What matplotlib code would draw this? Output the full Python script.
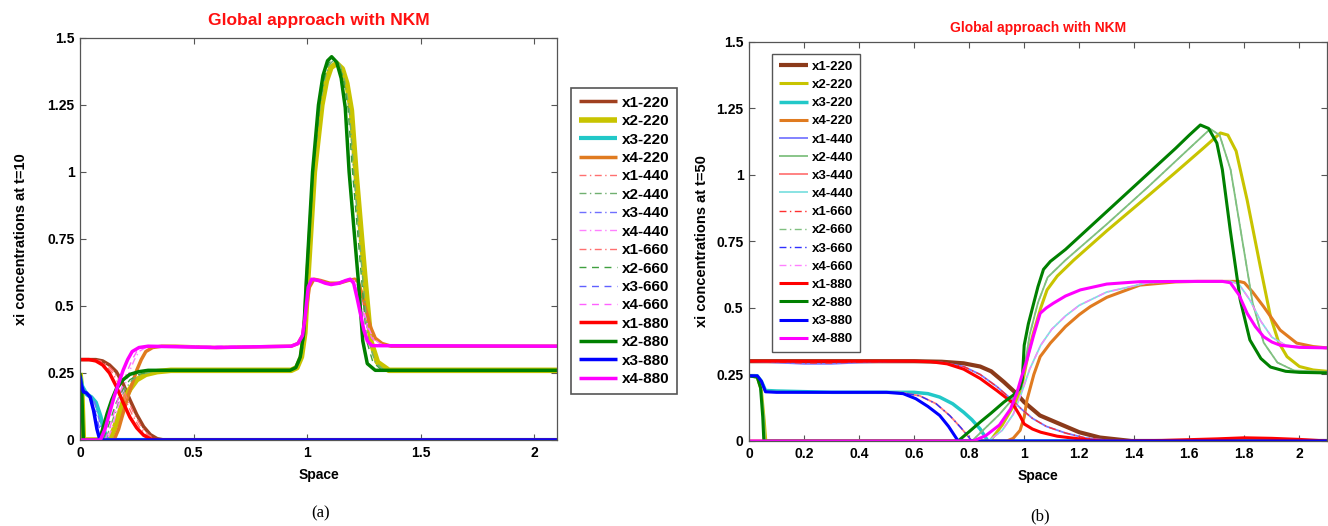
import matplotlib
matplotlib.use("Agg")
import matplotlib.pyplot as plt

plt.rcParams['font.family'] = ['Liberation Sans', 'DejaVu Sans']
plt.rcParams['font.weight'] = 'bold'

# ---- panel (a): t=10 ----
A_X1_220 = ([0, 0.07, 0.10, 0.13, 0.16, 0.19, 0.22, 0.25, 0.28, 0.31, 0.34, 0.37, 2.1],
            [0.30, 0.30, 0.295, 0.28, 0.255, 0.21, 0.15, 0.095, 0.05, 0.02, 0.005, 0.0, 0.0])
A_X2_220 = ([0, 0.008, 0.015, 0.13, 0.15, 0.17, 0.19, 0.22, 0.25, 0.29, 0.34, 0.40, 0.93, 0.955, 0.975, 0.99,
             1.003, 1.032, 1.065, 1.085, 1.105, 1.13, 1.155, 1.175, 1.195, 1.215, 1.255, 1.28, 1.31, 1.36, 2.1],
            [0.25, 0.18, 0.0, 0.0, 0.04, 0.09, 0.14, 0.19, 0.225, 0.245, 0.255, 0.26, 0.26, 0.27, 0.31, 0.40,
             0.60, 1.00, 1.25, 1.34, 1.39, 1.405, 1.385, 1.33, 1.23, 1.00, 0.60, 0.37, 0.29, 0.26, 0.26])
A_X3_220 = ([0, 0.01, 0.03, 0.05, 0.07, 0.09, 0.105, 0.12, 2.1],
            [0.24, 0.20, 0.17, 0.16, 0.14, 0.09, 0.04, 0.0, 0.0])
A_X4_220 = ([0, 0.15, 0.17, 0.19, 0.21, 0.23, 0.25, 0.27, 0.29, 0.32, 0.36, 0.42, 0.6, 0.93, 0.96, 0.98, 0.99,
             1.01, 1.03, 1.06, 1.10, 1.14, 1.18, 1.21, 1.225, 1.24, 1.26, 1.28, 1.30, 1.33, 1.37, 2.1],
            [0, 0, 0.04, 0.10, 0.16, 0.21, 0.26, 0.30, 0.33, 0.345, 0.35, 0.35, 0.345, 0.35, 0.36, 0.39, 0.45,
             0.57, 0.60, 0.595, 0.585, 0.585, 0.595, 0.60, 0.59, 0.55, 0.48, 0.42, 0.38, 0.36, 0.35, 0.35])

A_X1_440 = ([0, 0.06, 0.09, 0.12, 0.15, 0.18, 0.21, 0.24, 0.27, 0.30, 0.33, 0.36, 2.1],
            [0.30, 0.30, 0.295, 0.28, 0.255, 0.21, 0.15, 0.095, 0.05, 0.02, 0.005, 0.0, 0.0])
A_X2_440 = ([0, 0.008, 0.015, 0.11, 0.13, 0.15, 0.17, 0.20, 0.23, 0.27, 0.32, 0.38, 0.93, 0.955, 0.975, 0.99,
             1.0, 1.028, 1.058, 1.078, 1.098, 1.12, 1.145, 1.165, 1.185, 1.205, 1.245, 1.27, 1.30, 1.34, 2.1],
            [0.25, 0.18, 0.0, 0.0, 0.04, 0.09, 0.14, 0.19, 0.225, 0.245, 0.255, 0.26, 0.26, 0.27, 0.31, 0.40,
             0.60, 1.00, 1.25, 1.35, 1.40, 1.42, 1.40, 1.34, 1.24, 1.00, 0.60, 0.37, 0.29, 0.26, 0.26])
A_X3_440 = ([0, 0.01, 0.03, 0.05, 0.065, 0.08, 0.095, 0.105, 2.1],
            [0.24, 0.20, 0.17, 0.165, 0.14, 0.09, 0.04, 0.0, 0.0])
A_X4_440 = ([0, 0.12, 0.14, 0.16, 0.18, 0.20, 0.22, 0.24, 0.26, 0.29, 0.33, 0.40, 0.93, 0.96, 0.98, 0.99,
             1.005, 1.02, 1.06, 1.106, 1.15, 1.20, 1.215, 1.23, 1.25, 1.27, 1.29, 1.32, 1.35, 2.1],
            [0, 0, 0.04, 0.10, 0.16, 0.21, 0.26, 0.30, 0.33, 0.345, 0.35, 0.35, 0.35, 0.36, 0.39, 0.45,
             0.57, 0.60, 0.59, 0.58, 0.59, 0.60, 0.59, 0.55, 0.48, 0.42, 0.38, 0.36, 0.35, 0.35])

A_X1_660 = ([0, 0.05, 0.08, 0.11, 0.14, 0.17, 0.20, 0.23, 0.26, 0.29, 0.32, 0.35, 2.1],
            [0.30, 0.30, 0.295, 0.28, 0.255, 0.21, 0.15, 0.095, 0.05, 0.02, 0.005, 0.0, 0.0])
A_X2_660 = ([0, 0.008, 0.015, 0.10, 0.12, 0.14, 0.16, 0.19, 0.22, 0.26, 0.31, 0.36, 0.93, 0.955, 0.975, 0.99,
             1.0, 1.026, 1.055, 1.075, 1.095, 1.115, 1.14, 1.16, 1.18, 1.20, 1.24, 1.262, 1.29, 1.33, 2.1],
            [0.25, 0.18, 0.0, 0.0, 0.04, 0.09, 0.14, 0.19, 0.225, 0.245, 0.255, 0.26, 0.26, 0.27, 0.31, 0.40,
             0.60, 1.00, 1.25, 1.35, 1.405, 1.425, 1.405, 1.345, 1.24, 1.00, 0.60, 0.37, 0.29, 0.26, 0.26])
A_X3_660 = ([0, 0.01, 0.025, 0.04, 0.06, 0.075, 0.09, 0.10, 2.1],
            [0.24, 0.20, 0.175, 0.165, 0.13, 0.08, 0.03, 0.0, 0.0])
A_X4_660 = ([0, 0.11, 0.13, 0.15, 0.17, 0.19, 0.21, 0.23, 0.25, 0.28, 0.32, 0.40, 0.93, 0.96, 0.98, 0.99,
             1.005, 1.02, 1.06, 1.106, 1.15, 1.195, 1.21, 1.225, 1.245, 1.265, 1.285, 1.31, 1.34, 2.1],
            [0, 0, 0.04, 0.10, 0.16, 0.21, 0.26, 0.30, 0.33, 0.345, 0.35, 0.35, 0.35, 0.36, 0.39, 0.45,
             0.57, 0.60, 0.59, 0.58, 0.59, 0.60, 0.59, 0.55, 0.48, 0.42, 0.38, 0.36, 0.35, 0.35])

A_X1_880 = ([0, 0.04, 0.07, 0.10, 0.13, 0.16, 0.19, 0.22, 0.25, 0.28, 0.31, 0.34, 2.1],
            [0.30, 0.30, 0.295, 0.28, 0.25, 0.20, 0.14, 0.085, 0.045, 0.018, 0.004, 0.0, 0.0])
A_X2_880 = ([0, 0.008, 0.015, 0.085, 0.10, 0.12, 0.14, 0.16, 0.19, 0.22, 0.26, 0.30, 0.925, 0.95, 0.97, 0.985,
             0.997, 1.024, 1.05, 1.07, 1.09, 1.108, 1.13, 1.15, 1.168, 1.185, 1.225, 1.245, 1.265, 1.30, 2.1],
            [0.25, 0.18, 0.0, 0.0, 0.04, 0.10, 0.15, 0.19, 0.225, 0.245, 0.255, 0.26, 0.26, 0.27, 0.31, 0.40,
             0.60, 1.00, 1.25, 1.36, 1.415, 1.43, 1.41, 1.35, 1.24, 1.00, 0.60, 0.37, 0.285, 0.26, 0.26])
A_X3_880 = ([0, 0.005, 0.015, 0.03, 0.045, 0.06, 0.075, 0.088, 2.1],
            [0.24, 0.21, 0.18, 0.175, 0.16, 0.11, 0.04, 0.0, 0.0])
A_X4_880 = ([0, 0.09, 0.11, 0.13, 0.15, 0.17, 0.19, 0.21, 0.23, 0.26, 0.30, 0.6, 0.93, 0.96, 0.98, 0.99,
             1.005, 1.02, 1.05, 1.08, 1.106, 1.14, 1.17, 1.19, 1.205, 1.22, 1.235, 1.25, 1.265, 1.285, 2.1],
            [0, 0, 0.04, 0.10, 0.16, 0.21, 0.26, 0.30, 0.33, 0.345, 0.35, 0.345, 0.35, 0.36, 0.39, 0.45,
             0.57, 0.60, 0.595, 0.585, 0.58, 0.585, 0.595, 0.60, 0.585, 0.53, 0.47, 0.41, 0.37, 0.352, 0.35])

# ---- panel (b): t=50 ----
B_X1_220 = ([0, 0.2, 0.4, 0.6, 0.7, 0.78, 0.84, 0.88, 0.926, 0.97, 1.0, 1.057, 1.1, 1.15, 1.2, 1.275, 1.39, 2.1],
            [0.30, 0.30, 0.30, 0.30, 0.298, 0.292, 0.28, 0.262, 0.222, 0.18, 0.146, 0.096, 0.077, 0.055,
             0.033, 0.013, 0.0, 0.0])
B_X2_220 = ([0, 0.03, 0.045, 0.055, 0.061, 0.876, 0.92, 0.96, 0.985, 1.0, 1.015, 1.033, 1.06, 1.083, 1.12,
             1.18, 1.3, 1.42, 1.55, 1.65, 1.713, 1.74, 1.77, 1.81, 1.858, 1.895, 1.925, 1.955, 2.0, 2.05, 2.1],
            [0.245, 0.24, 0.19, 0.08, 0.0, 0.0, 0.06, 0.13, 0.18, 0.25, 0.33, 0.405, 0.50, 0.568, 0.62,
             0.68, 0.79, 0.895, 1.01, 1.10, 1.158, 1.15, 1.09, 0.906, 0.655, 0.467, 0.37, 0.317, 0.28,
             0.267, 0.262])
B_X3_220 = ([0, 0.03, 0.045, 0.06, 0.1, 0.3, 0.6, 0.65, 0.693, 0.74, 0.78, 0.81, 0.84, 0.868, 2.1],
            [0.245, 0.245, 0.225, 0.19, 0.188, 0.183, 0.183, 0.178, 0.165, 0.14, 0.108, 0.08, 0.045, 0.0, 0.0])
B_X4_220 = ([0, 0.937, 0.96, 0.985, 1.0, 1.01, 1.035, 1.058, 1.095, 1.15, 1.2, 1.24, 1.3, 1.42, 1.55, 1.63,
             1.78, 1.80, 1.83, 1.87, 1.93, 1.99, 2.05, 2.1],
            [0, 0, 0.01, 0.04, 0.09, 0.154, 0.25, 0.317, 0.368, 0.43, 0.475, 0.505, 0.54, 0.586, 0.598, 0.60,
             0.60, 0.595, 0.56, 0.505, 0.417, 0.368, 0.355, 0.35])

B_X1_440 = ([0, 0.1, 0.2, 0.3, 0.4, 0.6, 0.7, 0.78, 0.84, 0.90, 0.95, 0.99, 1.03, 1.08, 1.15, 1.22, 1.32, 2.1],
            [0.30, 0.295, 0.29, 0.29, 0.295, 0.30, 0.295, 0.28, 0.25, 0.205, 0.16, 0.12, 0.085, 0.055, 0.03,
             0.012, 0.0, 0.0])
B_X2_440 = ([0, 0.03, 0.045, 0.055, 0.058, 0.81, 0.86, 0.91, 0.96, 0.99, 1.0, 1.02, 1.05, 1.085, 1.15, 1.3,
             1.45, 1.6, 1.676, 1.71, 1.75, 1.79, 1.83, 1.87, 1.92, 1.98, 2.1],
            [0.245, 0.24, 0.19, 0.08, 0, 0, 0.05, 0.1, 0.16, 0.2, 0.27, 0.40, 0.52, 0.615, 0.68, 0.815,
             0.955, 1.10, 1.173, 1.15, 1.02, 0.77, 0.52, 0.37, 0.295, 0.265, 0.26])
B_X3_440 = ([0, 0.03, 0.045, 0.06, 0.1, 0.3, 0.55, 0.62, 0.68, 0.73, 0.77, 0.81, 2.1],
            [0.245, 0.245, 0.225, 0.185, 0.185, 0.183, 0.182, 0.17, 0.14, 0.095, 0.05, 0.0, 0.0])
B_X4_440 = ([0, 0.87, 0.92, 0.96, 0.99, 1.02, 1.06, 1.1, 1.15, 1.2, 1.3, 1.45, 1.6, 1.75, 1.78, 1.82, 1.86,
             1.9, 1.95, 2.02, 2.1],
            [0, 0, 0.04, 0.1, 0.18, 0.27, 0.36, 0.42, 0.47, 0.51, 0.56, 0.595, 0.6, 0.6, 0.59, 0.53, 0.45,
             0.39, 0.36, 0.352, 0.35])

B_X1_660 = ([0, 0.1, 0.2, 0.3, 0.4, 0.6, 0.7, 0.78, 0.84, 0.90, 0.95, 0.99, 1.03, 1.08, 1.15, 1.22, 1.32, 2.1],
            [0.30, 0.297, 0.293, 0.293, 0.297, 0.30, 0.295, 0.28, 0.25, 0.205, 0.16, 0.12, 0.085, 0.055, 0.03,
             0.012, 0.0, 0.0])
B_X2_660 = ([0, 0.03, 0.045, 0.055, 0.058, 0.81, 0.86, 0.91, 0.96, 0.99, 1.0, 1.02, 1.05, 1.085, 1.15, 1.3,
             1.45, 1.6, 1.676, 1.71, 1.75, 1.79, 1.83, 1.87, 1.92, 1.98, 2.1],
            [0.245, 0.24, 0.19, 0.08, 0, 0, 0.05, 0.1, 0.16, 0.2, 0.27, 0.40, 0.52, 0.615, 0.68, 0.815,
             0.955, 1.10, 1.173, 1.15, 1.02, 0.77, 0.52, 0.37, 0.295, 0.265, 0.26])
B_X3_660 = ([0, 0.03, 0.045, 0.06, 0.1, 0.3, 0.55, 0.62, 0.68, 0.73, 0.77, 0.81, 2.1],
            [0.245, 0.245, 0.225, 0.185, 0.185, 0.183, 0.182, 0.17, 0.14, 0.095, 0.05, 0.0, 0.0])
B_X4_660 = ([0, 0.87, 0.92, 0.96, 0.99, 1.02, 1.06, 1.1, 1.15, 1.2, 1.3, 1.45, 1.6, 1.75, 1.78, 1.82, 1.86,
             1.9, 1.95, 2.02, 2.1],
            [0, 0, 0.04, 0.1, 0.18, 0.27, 0.36, 0.42, 0.47, 0.51, 0.56, 0.595, 0.6, 0.6, 0.59, 0.53, 0.45,
             0.39, 0.36, 0.352, 0.35])

B_X1_880 = ([0, 0.2, 0.4, 0.6, 0.66, 0.72, 0.78, 0.84, 0.90, 0.955, 0.984, 1.0, 1.03, 1.06, 1.12, 1.2, 1.27,
             1.5, 1.7, 1.8, 1.9, 2.0, 2.1],
            [0.30, 0.30, 0.30, 0.30, 0.298, 0.29, 0.27, 0.235, 0.19, 0.146, 0.096, 0.064, 0.045, 0.033, 0.018,
             0.008, 0.0, 0.002, 0.008, 0.012, 0.01, 0.006, 0.0])
B_X2_880 = ([0, 0.03, 0.042, 0.05, 0.054, 0.76, 0.80, 0.84, 0.88, 0.926, 0.96, 0.984, 0.993, 1.0, 1.015,
             1.03, 1.05, 1.07, 1.095, 1.15, 1.25, 1.35, 1.45, 1.55, 1.60, 1.64, 1.67, 1.70, 1.72, 1.749,
             1.785, 1.82, 1.86, 1.895, 1.95, 2.0, 2.1],
            [0.245, 0.24, 0.20, 0.09, 0.0, 0.0, 0.035, 0.071, 0.105, 0.146, 0.172, 0.197, 0.23, 0.36, 0.44,
             0.50, 0.58, 0.645, 0.675, 0.72, 0.815, 0.91, 1.005, 1.10, 1.15, 1.188, 1.175, 1.12, 1.02, 0.79,
             0.53, 0.38, 0.31, 0.278, 0.262, 0.258, 0.256])
B_X3_880 = ([0, 0.03, 0.045, 0.06, 0.1, 0.3, 0.5, 0.56, 0.606, 0.65, 0.693, 0.725, 0.76, 2.1],
            [0.245, 0.245, 0.225, 0.185, 0.183, 0.183, 0.183, 0.178, 0.159, 0.13, 0.096, 0.055, 0.0, 0.0])
B_X4_880 = ([0, 0.815, 0.86, 0.91, 0.95, 0.973, 0.99, 1.01, 1.035, 1.058, 1.08, 1.106, 1.15, 1.204, 1.3,
             1.42, 1.6, 1.72, 1.749, 1.78, 1.81, 1.84, 1.87, 1.9, 1.93, 2.0, 2.1],
            [0.0, 0.0, 0.02, 0.06, 0.12, 0.18, 0.24, 0.305, 0.40, 0.48, 0.50, 0.518, 0.545, 0.568, 0.59,
             0.599, 0.60, 0.60, 0.595, 0.55, 0.48, 0.43, 0.392, 0.372, 0.36, 0.352, 0.35])

LABELS = ['x1-220', 'x2-220', 'x3-220', 'x4-220', 'x1-440', 'x2-440', 'x3-440', 'x4-440',
          'x1-660', 'x2-660', 'x3-660', 'x4-660', 'x1-880', 'x2-880', 'x3-880', 'x4-880']
A_SERIES = [A_X1_220, A_X2_220, A_X3_220, A_X4_220, A_X1_440, A_X2_440, A_X3_440, A_X4_440,
            A_X1_660, A_X2_660, A_X3_660, A_X4_660, A_X1_880, A_X2_880, A_X3_880, A_X4_880]
B_SERIES = [B_X1_220, B_X2_220, B_X3_220, B_X4_220, B_X1_440, B_X2_440, B_X3_440, B_X4_440,
            B_X1_660, B_X2_660, B_X3_660, B_X4_660, B_X1_880, B_X2_880, B_X3_880, B_X4_880]

DD = (0, (5, 2.5, 1, 2.5))  # matlab-like dash-dot
# colour, width, style
A_STYLE = [('#A0401F', 2.5, '-'), ('#C8C400', 4.0, '-'), ('#22C8C8', 3.0, '-'), ('#E07B20', 2.5, '-'),
           ('#FF7070', 1.0, DD), ('#70B070', 1.0, DD), ('#7070FF', 1.0, DD), ('#FF80FF', 1.0, DD),
           ('#FF7070', 1.0, DD), ('#40A040', 1.0, (0, (5, 4))), ('#6060FF', 1.0, (0, (5, 4))),
           ('#FF60FF', 1.0, (0, (5, 4))),
           ('#FF0000', 2.5, '-'), ('#008000', 2.5, '-'), ('#0000FF', 2.5, '-'), ('#FF00FF', 2.5, '-')]
B_STYLE = [('#8B3A1A', 3.0, '-'), ('#C8C400', 2.2, '-'), ('#22C8C8', 2.5, '-'), ('#E07B20', 2.2, '-'),
           ('#7878FF', 1.3, '-'), ('#80C080', 1.3, '-'), ('#FF7878', 1.3, '-'), ('#80E0E0', 1.3, '-'),
           ('#FF3030', 1.0, DD), ('#80C080', 1.0, DD), ('#3030FF', 1.0, DD), ('#FF80FF', 1.0, DD),
           ('#FF0000', 2.2, '-'), ('#008000', 2.2, '-'), ('#0000FF', 2.2, '-'), ('#FF00FF', 2.2, '-')]

Y_TICKS = [0, 0.25, 0.5, 0.75, 1, 1.25, 1.5]
Y_TICKLABELS = ['0', '0.25', '0.5', '0.75', '1', '1.25', '1.5']
A_XTICKS = [0, 0.5, 1, 1.5, 2]
A_XTICKLABELS = ['0', '0.5', '1', '1.5', '2']
B_XTICKS = [0, 0.2, 0.4, 0.6, 0.8, 1, 1.2, 1.4, 1.6, 1.8, 2]
B_XTICKLABELS = ['0', '0.2', '0.4', '0.6', '0.8', '1', '1.2', '1.4', '1.6', '1.8', '2']


def draw_panel(ax, series, styles, xticks, xticklabels, ylabel, ylabelpad, title, title_size, title_pad):
    for (xs, ys), (c, lw, ls), lab in zip(series, styles, LABELS):
        ax.plot(xs, ys, color=c, lw=lw, linestyle=ls, label=lab, solid_capstyle='butt')
    ax.set_xlim(0, 2.1)
    ax.set_ylim(0, 1.5)
    ax.set_xticks(xticks)
    ax.set_xticklabels(xticklabels)
    ax.set_yticks(Y_TICKS)
    ax.set_yticklabels(Y_TICKLABELS)
    ax.tick_params(direction='in', top=True, right=True, length=4, width=0.8, color='#555555',
                   labelsize=10, pad=4)
    for s in ax.spines.values():
        s.set_color('#555555')
        s.set_linewidth(0.9)
    ax.set_xlabel('Space', fontsize=10, fontweight='bold', labelpad=6)
    ax.set_ylabel(ylabel, fontsize=10.5, fontweight='bold', labelpad=ylabelpad)
    ax.set_title(title, color='#FF1010', fontsize=title_size, fontweight='bold', pad=title_pad)


fig = plt.figure(figsize=(13.28, 5.26), dpi=100)
ax1 = fig.add_axes([0.0602, 0.1635, 0.3592, 0.7643])
ax2 = fig.add_axes([0.564, 0.1616, 0.4352, 0.7586])

draw_panel(ax1, A_SERIES, A_STYLE, A_XTICKS, A_XTICKLABELS, 'xi concentrations at t=10', 14,
           'Global approach with NKM', 12.5, 9)
draw_panel(ax2, B_SERIES, B_STYLE, B_XTICKS, B_XTICKLABELS, 'xi concentrations at t=50', 5,
           'Global approach with NKM', 10, 7)

leg1 = ax1.legend(loc='upper left', bbox_to_anchor=(571 / 1328, 1 - 88 / 526), bbox_transform=fig.transFigure,
                  fontsize=11, handlelength=2.5, handletextpad=0.3, labelspacing=0.29,
                  borderpad=0.5, borderaxespad=0, fancybox=False, edgecolor='#555555', framealpha=1)
leg1.get_frame().set_linewidth(1.2)
leg2 = ax2.legend(loc='upper left', bbox_to_anchor=(772 / 1328, 1 - 54 / 526), bbox_transform=fig.transFigure,
                  fontsize=9.5, handlelength=2.2, handletextpad=0.3, labelspacing=0.45,
                  borderpad=0.5, borderaxespad=0, fancybox=False, edgecolor='#555555', framealpha=1)
leg2.get_frame().set_linewidth(1.0)

fig.text(321 / 1328, 1 - 513 / 526, '(a)', ha='center', va='center', fontsize=12,
         family=['Liberation Serif', 'DejaVu Serif'], fontweight='normal')
fig.text(1040 / 1328, 1 - 516 / 526, '(b)', ha='center', va='center', fontsize=12,
         family=['Liberation Serif', 'DejaVu Serif'], fontweight='normal')

fig.savefig('out.png', dpi=100)
